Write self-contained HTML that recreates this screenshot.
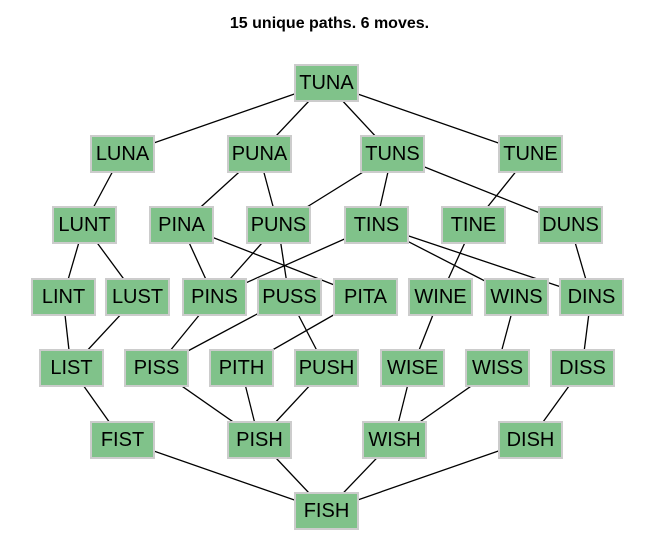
<!DOCTYPE html>
<html><head><meta charset="utf-8"><style>
html,body{margin:0;padding:0;background:#fff;}
body{width:659px;height:551px;position:relative;overflow:hidden;font-family:"Liberation Sans",Arial,sans-serif;}
.t{position:absolute;top:15px;left:0;width:659px;text-align:center;font-weight:bold;font-size:16px;}
.n{position:absolute;width:61px;height:34px;background:#80c28a;border:2px solid #cccccc;font-size:20px;line-height:34px;text-align:center;color:#000;}
svg{position:absolute;left:0;top:0;}
</style></head><body>
<div class="t">15 unique paths. 6 moves.</div>
<svg width="659" height="551" id="s" stroke="#000" stroke-width="1.3"></svg>
<div id="c"></div>
<script>
var N={TUNA:[326,83],LUNA:[122,154],PUNA:[259,154],TUNS:[392,154],TUNE:[530,154],
LUNT:[84,225],PINA:[181,225],PUNS:[278,225],TINS:[376,225],TINE:[473,225],DUNS:[570,225],
LINT:[63,297],LUST:[137,297],PINS:[214,297],PUSS:[289,297],PITA:[365,297],WINE:[440,297],WINS:[516,297],DINS:[591,297],
LIST:[71,368],PISS:[156,368],PITH:[241,368],PUSH:[326,368],WISE:[412,368],WISS:[497,368],DISS:[582,368],
FIST:[122,440],PISH:[259,440],WISH:[394,440],DISH:[530,440],FISH:[326,511]};
var E="TUNA-LUNA TUNA-PUNA TUNA-TUNS TUNA-TUNE LUNA-LUNT PUNA-PINA PUNA-PUNS TUNS-PUNS TUNS-TINS TUNS-DUNS TUNE-TINE LUNT-LINT LUNT-LUST PINA-PINS PINA-PITA PUNS-PINS PUNS-PUSS TINS-PINS TINS-WINS TINS-DINS TINE-WINE DUNS-DINS LINT-LIST LUST-LIST PINS-PISS PUSS-PISS PUSS-PUSH PITA-PITH WINE-WISE WINS-WISS DINS-DISS LIST-FIST PISS-PISH PITH-PISH PUSH-PISH WISE-WISH WISS-WISH DISS-DISH FIST-FISH PISH-FISH WISH-FISH DISH-FISH".split(" ");
var s="";E.forEach(function(e){var p=e.split("-"),a=N[p[0]],b=N[p[1]];s+='<line x1="'+a[0]+'" y1="'+a[1]+'" x2="'+b[0]+'" y2="'+b[1]+'"/>';});
document.getElementById("s").innerHTML=s;
var h="";for(var k in N){h+='<div class="n" style="left:'+(N[k][0]-32)+'px;top:'+(N[k][1]-19)+'px">'+k+'</div>';}
document.getElementById("c").innerHTML=h;
</script>
</body></html>
